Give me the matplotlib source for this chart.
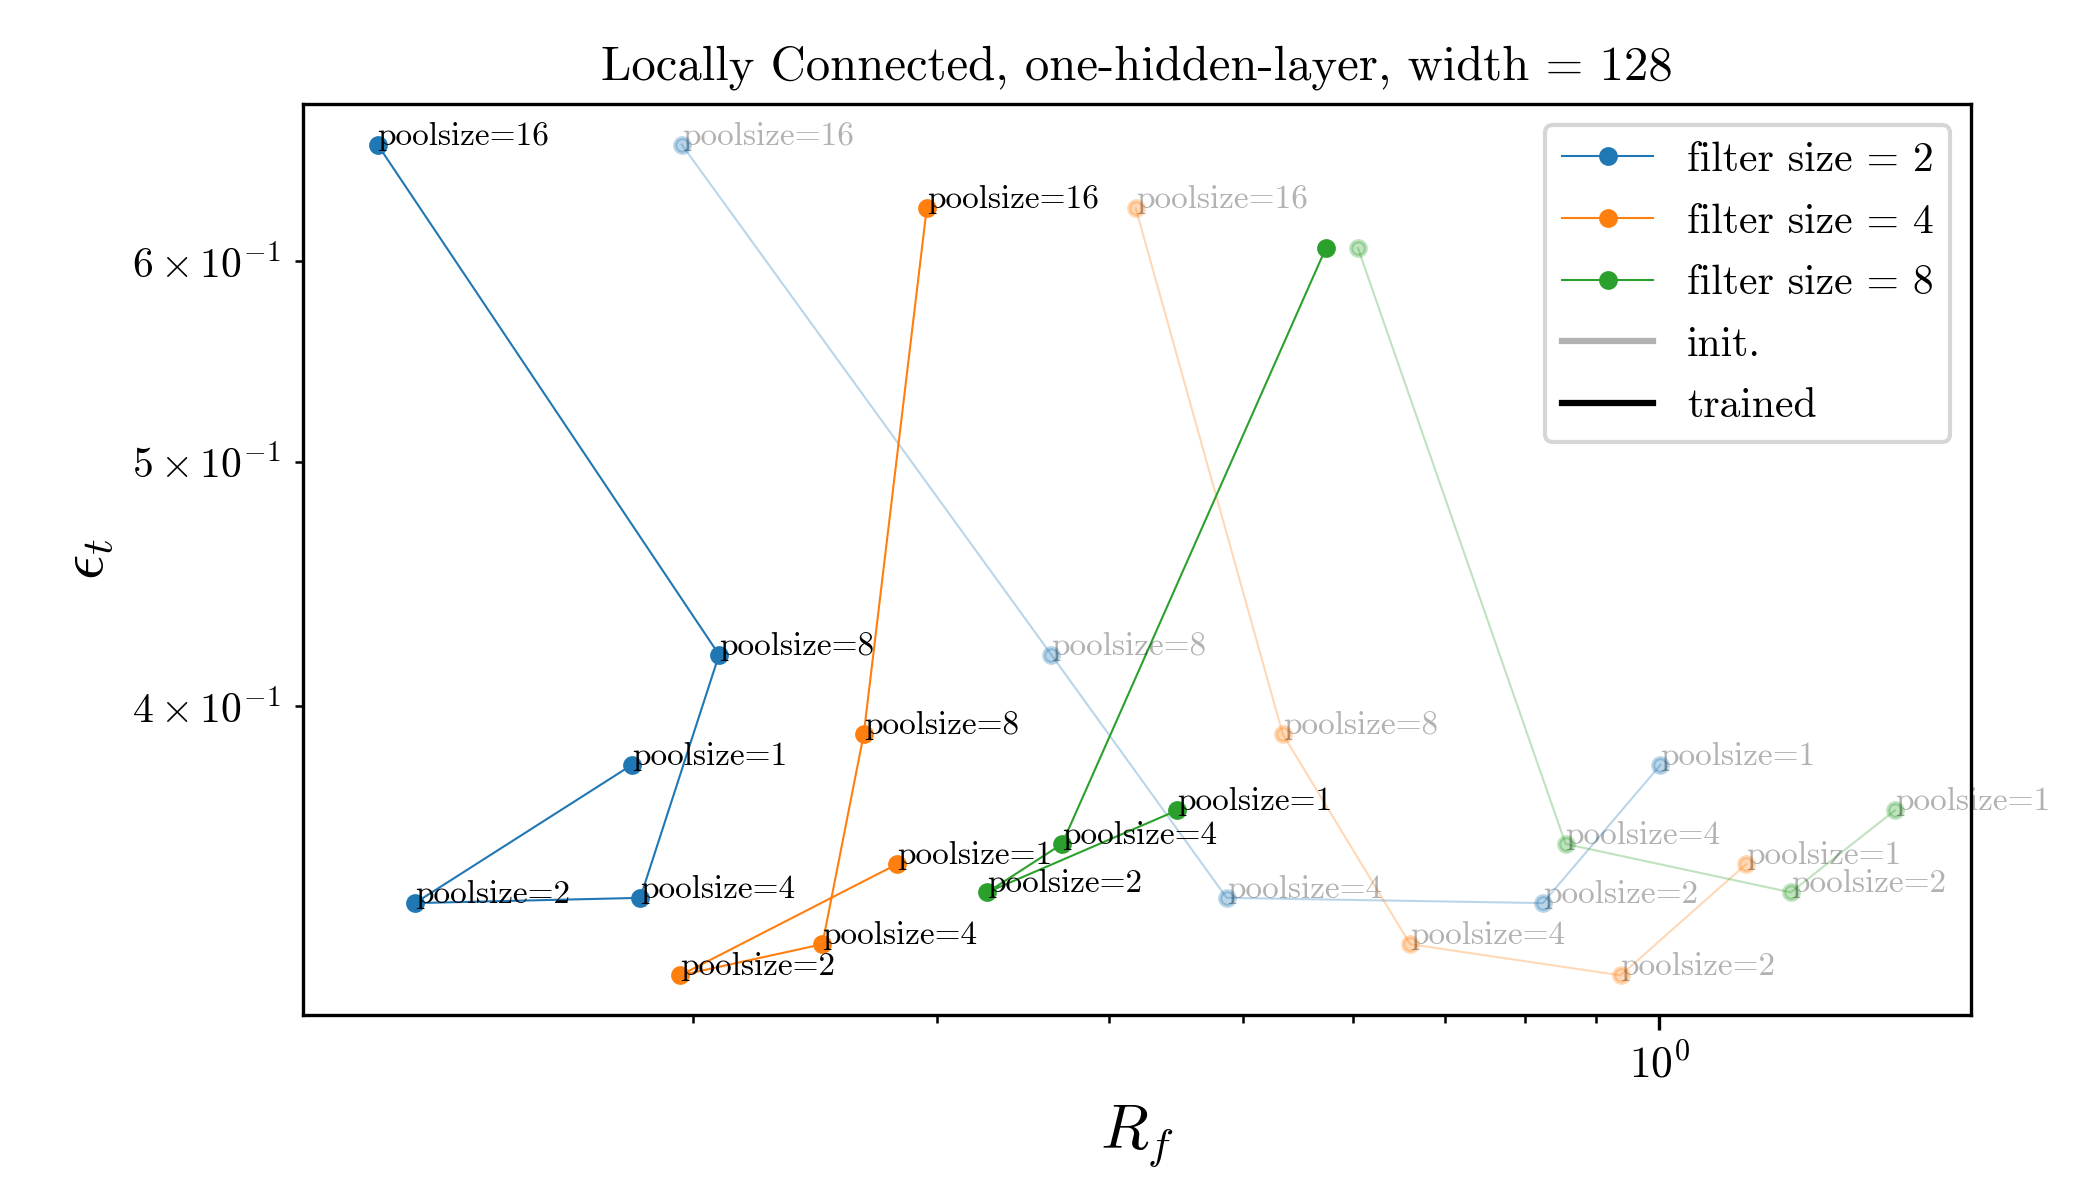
import matplotlib
matplotlib.use("Agg")
import matplotlib.pyplot as plt
from matplotlib.lines import Line2D

plt.rcParams['font.family'] = 'serif'
plt.rcParams['font.serif'] = ['cmr10']
plt.rcParams['mathtext.fontset'] = 'cm'
plt.rcParams['axes.formatter.use_mathtext'] = True

# pool sizes in the order the lines are drawn
pools = [1, 2, 4, 8, 16]
filters = [2, 4, 8]
colors = ['tab:blue', 'tab:orange', 'tab:green']

# test error eps_t (same for init and trained)
err = {
    2: [0.3793, 0.3344, 0.3360, 0.4193, 0.6674],
    4: [0.3465, 0.3131, 0.3221, 0.3900, 0.6298],
    8: [0.3639, 0.3377, 0.3529, 0.6073],
}
# R_f after training
rf_trained = {
    2: [0.1806, 0.1258, 0.1831, 0.2088, 0.1182],
    4: [0.2809, 0.1957, 0.2480, 0.2657, 0.2951],
    8: [0.4479, 0.3264, 0.3697, 0.5738],
}
# R_f at initialisation
rf_init = {
    2: [1.002, 0.8237, 0.4864, 0.3632, 0.1962],
    4: [1.156, 0.9376, 0.6603, 0.5341, 0.4180],
    8: [1.481, 1.245, 0.8555, 0.6053],
}
# which points carry a poolsize label
labelled = {2: 5, 4: 5, 8: 3}

fig, ax = plt.subplots(figsize=(7, 4), dpi=300)
fig.subplots_adjust(left=0.1443, right=0.9386, bottom=0.1542, top=0.9133)

for f, c in zip(filters, colors):
    ax.plot(rf_trained[f], err[f], '-o', color=c, lw=0.5, ms=3.5,
            label=f'filter size = {f}')
    ax.plot(rf_init[f], err[f], '-o', color=c, lw=0.5, ms=3.5, alpha=0.3)
    for i in range(labelled[f]):
        ax.text(rf_trained[f][i], err[f][i], f'poolsize={pools[i]}', fontsize=8)
        ax.text(rf_init[f][i], err[f][i], f'poolsize={pools[i]}', fontsize=8,
                alpha=0.3)

ax.set_xscale('log')
ax.set_yscale('log')
ax.set_xlim(0.1044, 1.681)
ax.set_ylim(0.302, 0.6925)
ax.tick_params(labelsize=10.4)

ax.set_xlabel(r'$R_f$', fontsize=15)
ax.set_ylabel(r'$\epsilon_t$', fontsize=15)
ax.set_title('Locally Connected, one-hidden-layer, width = 128', fontsize=11.7)

handles, labels = ax.get_legend_handles_labels()
handles += [Line2D([0], [0], color='k', alpha=0.3, lw=1.5),
            Line2D([0], [0], color='k', lw=1.5)]
labels += ['init.', 'trained']
ax.legend(handles, labels, loc='upper right', fontsize=10,
          handlelength=2.2, labelspacing=0.58)

fig.savefig('out.png')
